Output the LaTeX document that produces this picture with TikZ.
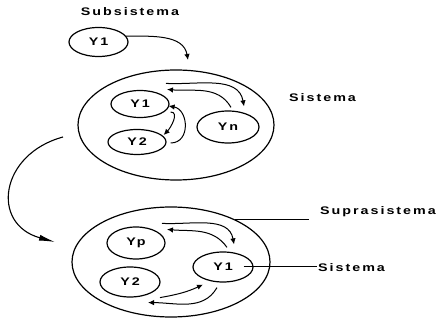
\documentclass[tikz,border=0pt]{standalone}
\usepackage{fontspec}
\newfontfamily\lblfont[LetterSpace=18,FakeStretch=1.3]{Liberation Sans Bold}
\usetikzlibrary{shapes.geometric, arrows.meta, positioning}
\tikzset{
  %% Element (small ellipse)
  elem/.style={
    ellipse, draw=black, line width=1.2pt,
    minimum width=58pt, minimum height=28pt,
    inner sep=0pt, font=\lblfont\fontsize{11}{13}\selectfont
  },
  %% System boundary (big ellipse)
  ring/.style={
    ellipse, draw=black, line width=1.2pt,
    minimum width=196pt, minimum height=110pt
  },
  %% Text label
  lbl/.style={font=\lblfont\fontsize{11}{13}\selectfont, inner sep=1pt},
  %% Arrows
  arr/.style={-{Latex[length=6pt,width=5.5pt]}, line width=1pt},
  bigarr/.style={-{Latex[length=16pt,width=6pt]}, line width=1.1pt},
}
\begin{document}
\begin{tikzpicture}[x=1pt,y=1pt]
  \useasboundingbox (0,0) rectangle (442,324);

  %% Subsystem on its own
  \node[lbl] (subt) at (130,312) {Subsistema};
  \node[elem, minimum width=59pt, minimum height=29pt] (sy1) at (98.5,282) {Y1};
  \coordinate (drop) at (188,264);
  \draw[arr] (sy1.12) to[out=0,in=100] (drop);

  %% System and its parts
  \node[ring] (sis) at (176,199) {};
  \node[elem, minimum height=27pt] (y1) at (140,220) {Y1};
  \node[elem, minimum height=25pt] (y2) at (137,182) {Y2};
  \node[elem, minimum width=62pt, minimum height=32pt] (yn) at (228,197) {Yn};
  \node[lbl, anchor=west] (sist) at (288,226) {Sistema};

  \draw[arr] ([shift={(26,6.5)}]y1.north) to[out=-3,in=100] ([shift={(16,4)}]yn.north);
  \draw[arr] ([shift={(3,3)}]yn.north) to[out=120,in=-5] ([shift={(27,0.5)}]y1.north);
  \draw[arr] ([shift={(1,-8)}]y1.east) to[out=0,in=45] ([shift={(-3,7)}]y2.east);
  \draw[arr] ([shift={(4,-1)}]y2.east) to[out=0,in=-10,looseness=1.4] ([shift={(-1,-2)}]y1.east);

  %% System becomes part of a suprasystem
  \coordinate (tail) at (63,187);
  \coordinate (head) at (55,82);
  \draw[bigarr] (tail) .. controls (0,170) and (-10,100) .. (head);

  \node[ring, minimum width=198pt] (sup) at (171,62) {};
  \node[elem, minimum height=32pt] (yp) at (136,81) {Yp};
  \node[elem, minimum width=60pt, minimum height=30pt] (z2) at (130,42) {Y2};
  \node[elem, minimum width=60pt, minimum height=30pt] (z1) at (223,57) {Y1};

  \draw[arr] ([shift={(26,3)}]yp.north) to[out=-3,in=100] ([shift={(11,7)}]z1.north);
  \draw[arr] ([shift={(4,4)}]z1.north) to[out=125,in=-5] ([shift={(31,-3)}]yp.north);
  \draw[arr] ([shift={(30,0)}]z2.south) to[out=10,in=205] ([shift={(-20,-2)}]z1.south);
  \draw[arr] ([shift={(-6,-5)}]z1.south) to[out=-120,in=0] ([shift={(18,-5)}]z2.south);

  %% Pointer labels
  \node[lbl, anchor=west] (supl) at (319,112) {Suprasistema};
  \node[lbl, anchor=west] (sisl) at (317,56) {Sistema};
  \draw[line width=1pt] (sup.34) -- ([xshift=-10pt]sup.34 -| supl.west);
  \draw[line width=1pt] ([xshift=-10pt]z1.east) -- (z1.east -| sisl.west);
\end{tikzpicture}
\end{document}
